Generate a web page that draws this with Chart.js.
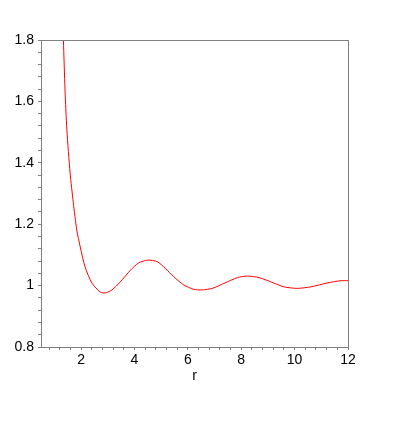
<!DOCTYPE html>
<html>
<head>
<meta charset="utf-8">
<script src="https://cdn.jsdelivr.net/npm/chart.js@4"></script>
<style>
  body{margin:0;background:#fff;}
  #wrap{width:415px;height:434px;}
</style>
</head>
<body>
<div id="wrap"><canvas id="myCanvas"></canvas></div>
<script>
// curve: r and g(r)
var rValues=[1.28,1.34,1.40,1.47,1.59,1.71,1.84,1.97,2.15,2.41,2.72,2.90,3.16,3.47,3.85,4.16,4.50,4.85,5.16,5.47,5.85,6.22,6.54,6.92,7.35,7.86,8.23,8.67,9.23,9.60,10.1,10.61,11.24,11.74,12.0];
var gValues=[1.97,1.80,1.637,1.507,1.367,1.27,1.181,1.126,1.061,1.008,0.979,0.976,0.986,1.012,1.05,1.074,1.083,1.078,1.056,1.029,1.002,0.988,0.986,0.991,1.007,1.026,1.031,1.026,1.008,0.996,0.991,0.996,1.009,1.016,1.016];
var xLabels=[2,4,6,8,10,12];
var yLabels=[0.8,1,1.2,1.4,1.6,1.8];
var axisTitle='r';

var points=[];
for(var i=0;i<rValues.length;i++){
  points.push({x:rValues[i],y:gValues[i]});
}

var frameColor='#808080';
var font={family:'"Liberation Sans", Arial, sans-serif',size:14};

//minor ticks every 0.4 on x and 0.04 on y
function xTicks(scale){
  var t=[];
  for(var i=2;i<=30;i++){ t.push({value:Math.round(i*0.4*100)/100}); }
  scale.ticks=t;
}
function yTicks(scale){
  var t=[];
  for(var i=20;i<=45;i++){ t.push({value:Math.round(i*0.04*100)/100}); }
  scale.ticks=t;
}

var framePlugin={
  id:'frame',
  afterDraw:function(chart){
    var a=chart.chartArea, c=chart.ctx;
    c.save();
    c.strokeStyle=frameColor;
    c.lineWidth=1;
    c.strokeRect(Math.round(a.left)+0.5,Math.round(a.top)+0.5,Math.round(a.right-a.left),Math.round(a.bottom-a.top));
    c.restore();
  }
};

var ctx=document.getElementById('myCanvas');
new Chart(ctx,{
  type:'scatter',
  data:{
    datasets:[{
      data:points,
      showLine:true,
      borderColor:'#ff0000',
      borderWidth:1,
      pointRadius:0,
      tension:0.25,
      fill:false
    }]
  },
  options:{
    responsive:true,
    maintainAspectRatio:false,
    animation:false,
    events:[],
    layout:{padding:{top:40,right:67,left:0,bottom:49}},
    plugins:{legend:{display:false},tooltip:{enabled:false}},
    scales:{
      x:{
        type:'linear',
        min:0.5,
        max:12,
        afterBuildTicks:xTicks,
        afterFit:function(s){ s.height=38; },
        grid:{drawOnChartArea:false,drawTicks:true,tickLength:3,color:frameColor},
        border:{display:true,color:frameColor},
        ticks:{
          autoSkip:false,
          maxRotation:0,
          padding:2,
          color:'#000',
          font:font,
          callback:function(v){
            var n=Math.round(v*10)/10;
            return xLabels.indexOf(n)>=0 ? String(n) : '';
          }
        },
        title:{display:true,text:axisTitle,color:'#000',font:font,padding:{top:0,bottom:0}}
      },
      y:{
        type:'linear',
        min:0.8,
        max:1.8,
        afterBuildTicks:yTicks,
        afterFit:function(s){ s.width=41; },
        grid:{drawOnChartArea:false,drawTicks:true,tickLength:3,color:frameColor},
        border:{display:true,color:frameColor},
        ticks:{
          autoSkip:false,
          padding:4,
          color:'#000',
          font:font,
          callback:function(v){
            var n=Math.round(v*100)/100;
            return yLabels.indexOf(n)>=0 ? String(n) : '';
          }
        }
      }
    }
  },
  plugins:[framePlugin]
});
</script>
</body>
</html>
